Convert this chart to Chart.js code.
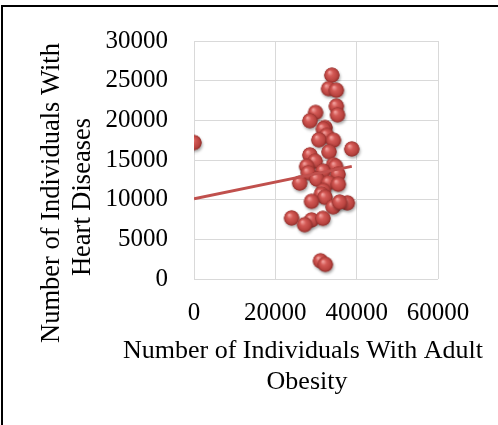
<!DOCTYPE html>
<html>
<head>
<meta charset="utf-8">
<script src="https://cdn.jsdelivr.net/npm/chart.js@4/dist/chart.umd.min.js"></script>
<style>
  html, body { margin: 0; padding: 0; background: #fff; }
  #wrap { position: relative; width: 498px; height: 425px; overflow: hidden; }
  #frame { position: absolute; left: 1px; top: 5px; width: 497px; height: 430px;
           border-top: 2px solid #000; border-left: 2px solid #000; box-sizing: border-box; pointer-events: none; }
  canvas { position: absolute; left: 0; top: 0; }
</style>
</head>
<body>
<div id="wrap">
  <canvas id="c" width="498" height="425"></canvas>
  <div id="frame"></div>
</div>
<script>
// ---- data ----
const obesity = [0, 33900, 33100, 35000, 35000, 35300, 29900, 28500, 32200, 31800,
  32600, 30700, 34300, 38800, 33200, 28500, 29800, 34300, 27700, 34800,
  28100, 31700, 35400, 30200, 26000, 33100, 35500, 31800, 31300, 32200,
  28900, 34200, 37700, 35800, 24000, 28900, 31700, 27200, 31100, 32300];
const heartDisease = [17200, 25700, 24000, 23800, 21800, 20700, 21000, 19950, 19100, 18900,
  18100, 17550, 17500, 16400, 16050, 15650, 14850, 14400, 14200, 14200,
  13400, 13600, 13200, 12600, 12100, 12150, 11950, 11150, 10700, 10300,
  9800, 9100, 9600, 9700, 7700, 7450, 7650, 6850, 2300, 1850];
const trendX = [0, 38800];
const trendY = [10100, 14200];
const xTicks = [0, 20000, 40000, 60000];
const yTicks = [0, 5000, 10000, 15000, 20000, 25000, 30000];
const xTitle = ['Number of Individuals With Adult', 'Obesity'];
const yTitle = ['Number of Individuals With', 'Heart Diseases'];

// ---- sphere marker ----
function makeSphere() {
  const s = 24, c = document.createElement('canvas');
  c.width = s; c.height = s;
  const g = c.getContext('2d');
  const cx = s / 2, cy = s / 2, r = 7.6;
  g.save();
  g.shadowColor = 'rgba(0,0,0,0.35)';
  g.shadowBlur = 3; g.shadowOffsetX = 1; g.shadowOffsetY = 2;
  g.beginPath(); g.arc(cx, cy, r, 0, Math.PI * 2);
  g.fillStyle = '#a8403d'; g.fill();
  g.restore();
  const grad = g.createRadialGradient(cx - 2.5, cy - 3, 0.5, cx, cy, r);
  grad.addColorStop(0, '#f2a09d');
  grad.addColorStop(0.35, '#d45a56');
  grad.addColorStop(0.8, '#b8433f');
  grad.addColorStop(1, '#8f2c29');
  g.beginPath(); g.arc(cx, cy, r, 0, Math.PI * 2);
  g.fillStyle = grad; g.fill();
  return c;
}
const sphere = makeSphere();

const pts = obesity.map((x, i) => ({ x: x, y: heartDisease[i] }));
const trend = trendX.map((x, i) => ({ x: x, y: trendY[i] }));

const FONT = 'Liberation Serif, Times New Roman, serif';

const titlesPlugin = {
  id: 'axisTitles',
  afterDraw(chart) {
    const ctx = chart.ctx;
    ctx.save();
    ctx.fillStyle = '#000';
    ctx.textAlign = 'center';
    ctx.textBaseline = 'middle';
    // x title
    ctx.font = '26px ' + FONT;
    ctx.fillText(xTitle[0], 303, 351);
    ctx.fillText(xTitle[1], 307, 382);
    // y title
    ctx.font = '26.5px ' + FONT;
    const ys = [[52, 193], [83, 197]];
    yTitle.forEach((t, i) => {
      ctx.save();
      ctx.translate(ys[i][0], ys[i][1]);
      ctx.rotate(-Math.PI / 2);
      ctx.fillText(t, 0, 0);
      ctx.restore();
    });
    ctx.restore();
  }
};

const plain = (v) => String(v);

new Chart(document.getElementById('c'), {
  type: 'scatter',
  data: {
    datasets: [
      {
        label: 'Trend',
        data: trend,
        showLine: true,
        borderColor: '#c0504d',
        borderWidth: 3,
        pointRadius: 0,
        order: 0
      },
      {
        label: 'Counties',
        data: pts,
        pointStyle: sphere,
        pointRadius: 8,
        order: 1
      }
    ]
  },
  options: {
    responsive: false,
    animation: false,
    devicePixelRatio: 1,
    layout: { padding: { left: 0, top: 35, right: 60, bottom: 0 } },
    plugins: { legend: { display: false }, tooltip: { enabled: false } },
    scales: {
      x: {
        type: 'linear', min: 0, max: 60000,
        afterBuildTicks: (s) => { s.ticks = xTicks.map(v => ({ value: v })); },
        afterFit: (s) => { s.height = 146; },
        grid: { color: '#d9d9d9', lineWidth: 1, drawTicks: false },
        border: { display: false },
        ticks: { color: '#000', font: { family: FONT, size: 25 }, padding: 19, maxRotation: 0, callback: plain }
      },
      y: {
        type: 'linear', min: 0, max: 30000,
        afterBuildTicks: (s) => { s.ticks = yTicks.map(v => ({ value: v })); },
        afterFit: (s) => { s.width = 194; },
        grid: { color: '#d9d9d9', lineWidth: 1, drawTicks: false },
        border: { display: false },
        ticks: { color: '#000', font: { family: FONT, size: 25 }, padding: 26, callback: plain }
      }
    }
  },
  plugins: [titlesPlugin]
});
</script>
</body>
</html>
